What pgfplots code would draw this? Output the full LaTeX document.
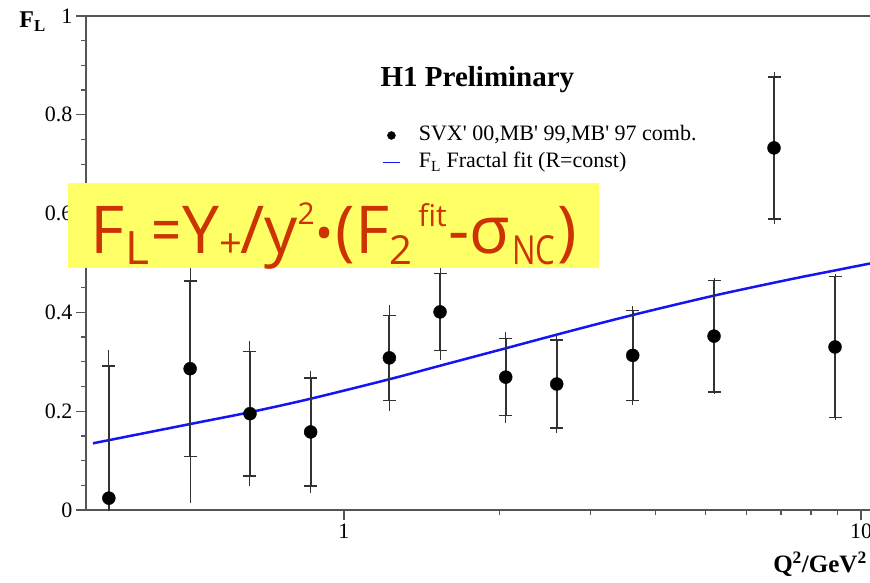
\documentclass[border=0pt]{standalone}
\usepackage{fontspec}
\setmainfont{Liberation Serif}
\newfontfamily\formulafont{Open Sans}
\usepackage{pgfplots}
\usepackage{pgfplotstable}
\pgfplotsset{compat=1.18}

\definecolor{fitblue}{RGB}{20,20,245}
\definecolor{notebg}{RGB}{255,255,102}
\definecolor{notefg}{RGB}{204,51,0}
\definecolor{axisgray}{RGB}{85,85,85}
\definecolor{bargray}{RGB}{50,50,50}

% F_L points: value, inner (stat) and outer (total) errors
\pgfplotstableread{
x      y      ei     eo
0.351  0.024  0.267  0.299
0.504  0.286  0.178  0.272
0.658  0.195  0.126  0.147
0.862  0.158  0.109  0.123
1.224  0.308  0.086  0.107
1.534  0.401  0.078  0.098
2.055  0.269  0.078  0.092
2.579  0.255  0.089  0.100
3.618  0.313  0.091  0.100
5.196  0.352  0.113  0.117
6.787  0.733  0.144  0.154
8.906  0.330  0.143  0.147
}\flpoints

% fractal fit curve
\pgfplotstableread{
x      y
0.327  0.135
0.504  0.174
0.658  0.198
0.860  0.225
1.227  0.265
1.533  0.292
2.049  0.327
2.734  0.362
3.626  0.395
5.198  0.434
7.300  0.467
8.910  0.485
10.41  0.499
}\flfit

\begin{document}
\begin{tikzpicture}[x=1pt,y=1pt]
\useasboundingbox (0,0) rectangle (870,582);
\clip (0,0) rectangle (870,582);
\begin{axis}[
  at={(86pt,72pt)}, anchor=south west,
  scale only axis, width=786pt, height=494pt,
  xmode=log, xmin=0.317, xmax=10.5, ymin=0, ymax=1,
  log ticks with fixed point,
  xtick={1,10},
  ytick={0,0.2,0.4,0.6,0.8,1},
  minor y tick num=3,
  axis lines*=left,
  axis line style={axisgray, line width=1.4pt},
  tick style={axisgray, line width=1.2pt},
  tick align=outside,
  major tick length=10pt,
  minor tick length=5pt,
  ticklabel style={font=\fontsize{22}{24}\selectfont},
  /pgf/number format/assume math mode=true,
  xlabel={\textbf{Q\textsuperscript{2}/GeV\textsuperscript{2}}},
  every axis x label/.style={at={(axis description cs:0.9936,0)}, anchor=north east,
    yshift=-42pt, inner sep=0pt, font=\fontsize{25}{27}\selectfont},
  ylabel={\textbf{F\textsubscript{L}}},
  every axis y label/.style={at={(axis description cs:0,1)}, anchor=north east,
    xshift=-40pt, yshift=4pt, inner sep=0pt, font=\fontsize{24}{26}\selectfont},
  legend style={draw=none, fill=none, at={(axis description cs:0.3766,0.7794)},
    anchor=north west, inner sep=0pt, outer sep=0pt,
    font=\fontsize{22}{24}\selectfont, row sep=6pt,
    nodes={inner sep=0pt, text height=16pt, text depth=5pt},
    /tikz/every odd column/.append style={column sep=18pt}},
  legend cell align=left,
  after end axis/.code={
    \draw[axisgray, line width=1.4pt] (rel axis cs:0,1) -- (rel axis cs:1,1);
  },
]
% fit curve
\addplot[forget plot, fitblue, line width=2.5pt, mark=none, smooth] table[x=x, y=y] {\flfit};
% total errors: thin bars without caps
\addplot[forget plot, only marks, mark=none,
  error bars/.cd, y dir=both, y explicit, error mark=none,
  error bar style={draw=bargray, line width=1pt}]
  table[x=x, y=y, y error=eo] {\flpoints};
% statistical errors with caps, and the points
\addplot[forget plot, only marks, mark=*, mark size=6.5pt,
  mark options={fill=black, draw=black},
  error bars/.cd, y dir=both, y explicit, error mark=|,
  error bar style={draw=bargray, line width=2pt},
  error mark options={draw=bargray, line width=1.5pt, mark size=6.5pt}]
  table[x=x, y=y, y error=ei] {\flpoints};

\addlegendimage{only marks, mark=*, mark size=4pt, black}
\addlegendentry{SVX\textquotesingle{} 00,MB\textquotesingle{} 99,MB\textquotesingle{} 97 comb.}
\addlegendimage{fitblue, line width=1.8pt}
\addlegendentry{F\textsubscript{L} Fractal fit (R=const)}

\node[anchor=base, font=\bfseries\fontsize{29}{31}\selectfont]
  at (axis description cs:0.498,0.8563) {H1 Preliminary};
\end{axis}

% highlighted formula box
\fill[notebg] (68,314) rectangle (599,399);
\node[anchor=base west, inner sep=0pt, text=notefg] at (90,328) {\formulafont
  \fontsize{66}{66}\selectfont
  F\kern1pt\raisebox{-11pt}{\fontsize{46}{46}\selectfont L}\kern2pt%
  \scalebox{0.8}[1]{=}\kern1pt Y\raisebox{-4pt}{\fontsize{40}{40}\selectfont +}\kern-2pt/%
  y\raisebox{29pt}{\fontsize{30}{30}\selectfont 2}\kern1pt%
  \raisebox{3pt}{\fontsize{48}{48}\selectfont •}\kern2pt(F\raisebox{-11pt}{\fontsize{40}{40}\selectfont 2}\kern6pt%
  \raisebox{27pt}{\fontsize{30}{30}\selectfont fit}\kern2pt-σ\kern2pt%
  \raisebox{-11pt}{\scalebox{0.78}[1]{\fontsize{40}{40}\selectfont NC}}\kern2pt)};
\end{tikzpicture}
\end{document}
